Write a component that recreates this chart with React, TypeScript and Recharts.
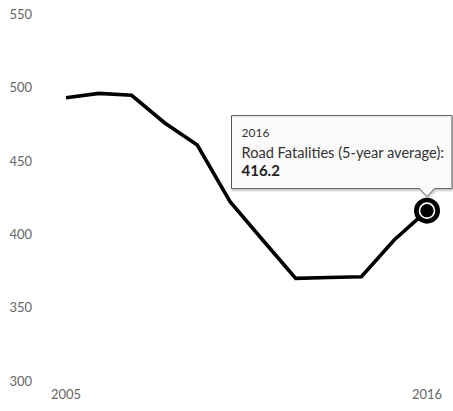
import React from 'react';
import { LineChart, Line, XAxis, YAxis, ReferenceDot } from 'recharts';

const years = [2005, 2006, 2007, 2008, 2009, 2010, 2011, 2012, 2013, 2014, 2015, 2016];
const fatalities = [493.2, 496.2, 494.9, 476.2, 461.0, 422.3, 396.0, 370.0, 370.6, 371.1, 396.2, 416.2];
const yTicks = [300, 350, 400, 450, 500, 550];
const xTicks = [2005, 2016];
const highlightIndex = 11;
const seriesName = 'Road Fatalities (5-year average)';

const data = years.map((year, i) => ({ year, value: fatalities[i] }));

const FONT = 'Lato, "Noto Sans", sans-serif';

const TooltipMarker = (props: any) => {
  const { cx, cy } = props;
  const point = data[highlightIndex];
  const left = cx - 195.5;
  const right = cx + 25;
  const top = cy - 95;
  const bottom = cy - 22;
  const arrowTip = cy - 14;
  return (
    <g>
      <defs>
        <filter id="tipShadow" x="-10%" y="-10%" width="130%" height="140%">
          <feDropShadow dx="1" dy="1.5" stdDeviation="1" floodColor="#000" floodOpacity="0.25" />
        </filter>
      </defs>
      <g filter="url(#tipShadow)">
        <path
          d={`M${left},${top} H${right} V${bottom} H${cx + 7.5} L${cx},${arrowTip} L${cx - 7.5},${bottom} H${left} Z`}
          fill="#fafafa"
          stroke="#555"
          strokeWidth={1}
        />
      </g>
      <text x={left + 10} y={cy - 74} fontFamily={FONT} fontSize={12} fill="#333">{point.year}</text>
      <text x={left + 10} y={cy - 53} fontFamily={FONT} fontSize={14.6} fill="#333">{seriesName}:</text>
      <text x={left + 10} y={cy - 35} fontFamily={FONT} fontSize={15} fontWeight="bold" fill="#222">{point.value.toFixed(1)}</text>
      <circle cx={cx} cy={cy} r={13} fill="#000" />
      <circle cx={cx} cy={cy} r={7.5} fill="#000" stroke="#fff" strokeWidth={1.6} />
    </g>
  );
};

export default function App() {
  return (
    <div style={{ position: 'absolute', left: 0, top: 0, background: '#fff' }}>
      <LineChart width={453} height={411} data={data} margin={{ top: 14.5, right: 26, bottom: 0, left: 0 }}>
        <XAxis
          dataKey="year"
          type="number"
          domain={[2005, 2016]}
          ticks={xTicks}
          axisLine={false}
          tickLine={false}
          tickSize={0}
          tickMargin={9}
          height={30}
          padding={{ left: 34, right: 0 }}
          tick={{ fill: '#666', fontSize: 13, fontFamily: FONT }}
        />
        <YAxis
          domain={[300, 550]}
          ticks={yTicks}
          axisLine={false}
          tickLine={false}
          tickSize={0}
          tickMargin={0}
          width={32}
          tick={{ fill: '#666', fontSize: 13, fontFamily: FONT }}
        />
        <Line
          type="linear"
          dataKey="value"
          stroke="#000"
          strokeWidth={3.6}
          dot={false}
          isAnimationActive={false}
        />
        <ReferenceDot
          x={data[highlightIndex].year}
          y={data[highlightIndex].value}
          ifOverflow="visible"
          shape={TooltipMarker}
        />
      </LineChart>
    </div>
  );
}
